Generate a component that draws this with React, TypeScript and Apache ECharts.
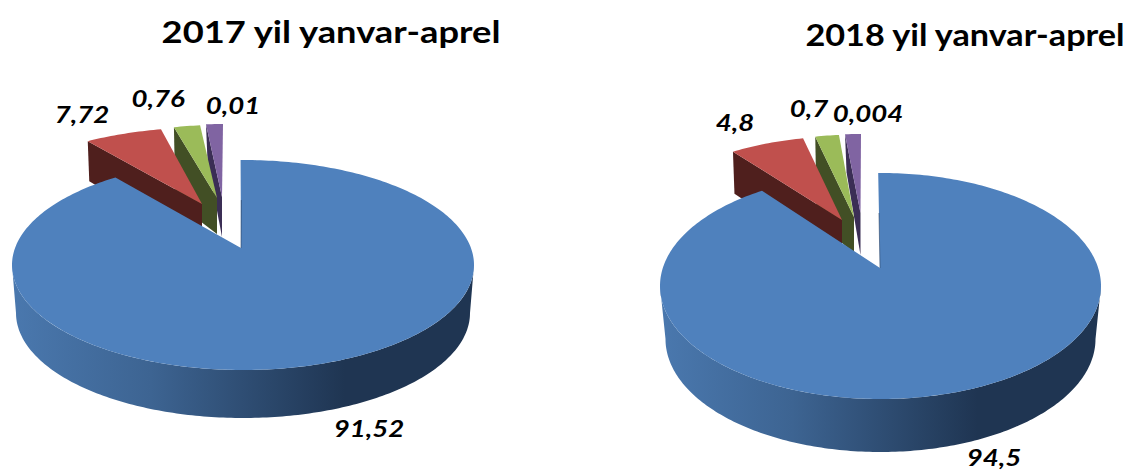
import React, { useEffect, useRef } from "react";
import * as echarts from "echarts";

const titles = ["2017 yil yanvar-aprel", "2018 yil yanvar-aprel"];
const categories = ["Blue", "Red", "Green", "Purple"];
// printed labels
const labels2017 = ["91,52", "7,72", "0,76", "0,01"];
const labels2018 = ["94,5", "4,8", "0,7", "0,004"];
// share of the circle each slice visibly occupies in the picture (percent)
const drawn2017 = [90.69, 5.67, 2.22, 1.42];
const drawn2018 = [90.97, 5.64, 2.03, 1.36];

const topColors = ["#4F81BD", "#C0504D", "#9BBB59", "#8064A2"];
const wallColors = ["#2B4565", "#4F1F1D", "#424F25", "#3B2E55"];

type Geo = { cx: number; cy: number; rx: number; ry: number; tx: number; ty: number; d: number; dTip: number; lx: number; ly: number; lowRx?: number };

const geo2017: Geo[] = [
  { cx: 243, cy: 265, rx: 231, ry: 105, tx: 241, ty: 248, d: 48, dTip: 48, lx: 369, ly: 428, lowRx: 227 },
  { cx: 212, cy: 212, rx: 225, ry: 85, tx: 202, ty: 204, d: 40, dTip: 45, lx: 82, ly: 114 },
  { cx: 217, cy: 210, rx: 190, ry: 85, tx: 217, ty: 198, d: 75, dTip: 36, lx: 158, ly: 98 },
  { cx: 223, cy: 209, rx: 191, ry: 85, tx: 222, ty: 197, d: 36, dTip: 40, lx: 233, ly: 105 },
];
const geo2018: Geo[] = [
  { cx: 880.5, cy: 286, rx: 220.5, ry: 113, tx: 880, ty: 268, d: 53, dTip: 53, lx: 994, ly: 457, lowRx: 215 },
  { cx: 848.5, cy: 236, rx: 215, ry: 100, tx: 842, ty: 220, d: 42, dTip: 45, lx: 735, ly: 122 },
  { cx: 855, cy: 224.6, rx: 188, ry: 90, tx: 854, ty: 217, d: 85, dTip: 36, lx: 809, ly: 108 },
  { cx: 861, cy: 224, rx: 187, ry: 90, tx: 860.5, ty: 213, d: 38, dTip: 42, lx: 868, ly: 113 },
];

const pt = (g: Geo, deg: number, rx = g.rx, dy = 0): number[] => {
  const a = (deg * Math.PI) / 180;
  return [g.cx + rx * Math.sin(a), g.cy + dy - g.ry * Math.cos(a)];
};
const arc = (g: Geo, from: number, to: number, rx = g.rx, dy = 0): number[][] => {
  const n = Math.max(4, Math.ceil(Math.abs(to - from)));
  const out: number[][] = [];
  for (let i = 0; i <= n; i++) out.push(pt(g, from + ((to - from) * i) / n, rx, dy));
  return out;
};

const pieSeries = (shares: number[], geos: Geo[], texts: string[]) => {
  const total = shares.reduce((a, b) => a + b, 0);
  const starts: number[] = [];
  let acc = 0;
  shares.forEach((s) => {
    starts.push((acc / total) * 360);
    acc += s;
  });
  const order = [3, 2, 1, 0];
  return {
    type: "custom",
    coordinateSystem: "none",
    silent: true,
    data: order.map((i) => ({ name: categories[i], value: [i, shares[i]] })),
    renderItem: (params: any, api: any) => {
      const i = api.value(0);
      const g = geos[i];
      const from = starts[i] - (i === 0 ? 0.6 : 0);
      const to = starts[i] + (api.value(1) / total) * 360;
      const children: any[] = [];
      if (i === 0) {
        const low = g.lowRx ?? g.rx;
        children.push({
          type: "polygon",
          shape: { points: [...arc(g, 90, 270), ...arc(g, 270, 90, low, g.d)] },
          style: {
            fill: new echarts.graphic.LinearGradient(0, 0, 1, 0, [
              { offset: 0, color: "#4A78AE" },
              { offset: 0.3, color: "#3D6492" },
              { offset: 0.72, color: "#1F3552" },
              { offset: 1, color: "#1F3552" },
            ]),
          },
        });
      } else {
        const a = pt(g, from);
        children.push({
          type: "polygon",
          shape: { points: [a, [g.tx, g.ty], [g.tx, g.ty + g.dTip], [a[0] + 1.5, a[1] + g.d]] },
          style: { fill: wallColors[i] },
        });
      }
      children.push({
        type: "polygon",
        shape: { points: [[g.tx, g.ty], ...arc(g, from, to)] },
        style: { fill: topColors[i] },
      });
      if (i === 0) {
        const t = pt(g, from);
        children.push({
          type: "line",
          shape: { x1: t[0] + 0.8, y1: t[1] + 40, x2: g.tx, y2: g.ty },
          style: { stroke: wallColors[0], lineWidth: 1, opacity: 0.6 },
        });
      }
      children.push({
        type: "text",
        x: g.lx,
        y: g.ly,
        scaleX: 1.2,
        style: {
          text: texts[i],
          font: "italic bold 23px Lato",
          fill: "#000000",
          align: "center",
          verticalAlign: "middle",
        },
      });
      return { type: "group", children };
    },
  };
};

export default function App() {
  const ref = useRef<HTMLDivElement>(null);
  useEffect(() => {
    const chart = echarts.init(ref.current!, null, { renderer: "svg" });
    chart.setOption({
      animation: false,
      backgroundColor: "#FFFFFF",
      graphic: [
        { type: "text", x: 331, y: 31, scaleX: 1.21, style: { text: titles[0], font: "bold 30px Lato", fill: "#000", align: "center", verticalAlign: "middle" } },
        { type: "text", x: 965, y: 34, scaleX: 1.14, style: { text: titles[1], font: "bold 30px Lato", fill: "#000", align: "center", verticalAlign: "middle" } },
      ],
      series: [pieSeries(drawn2017, geo2017, labels2017), pieSeries(drawn2018, geo2018, labels2018)],
    });
    return () => chart.dispose();
  }, []);
  return <div ref={ref} style={{ position: "absolute", left: 0, top: 0, width: 1128, height: 472 }} />;
}
